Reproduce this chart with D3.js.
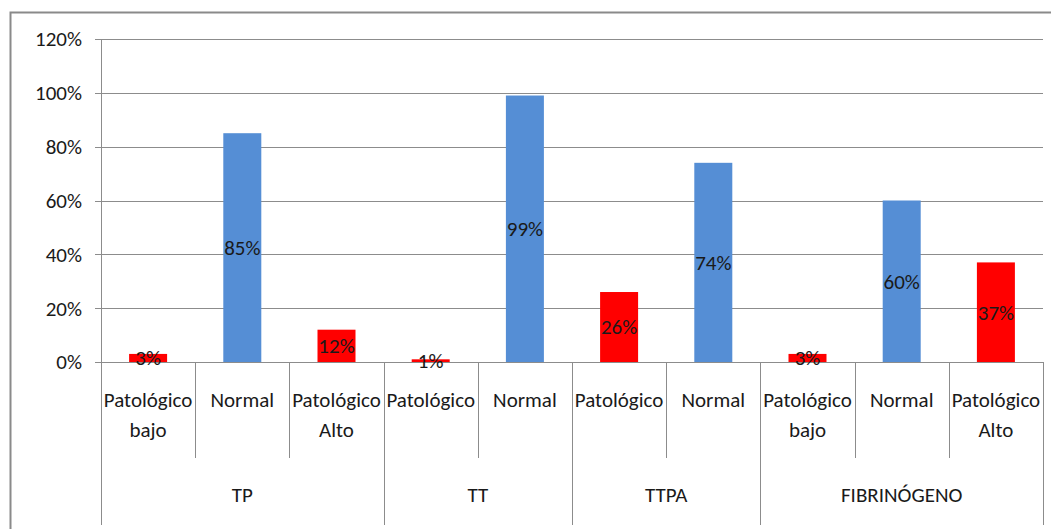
<!DOCTYPE html>
<html><head><meta charset="utf-8">
<script src="https://cdn.jsdelivr.net/npm/d3@7"></script>
<style>
html,body{margin:0;padding:0;background:#fff;}
svg text{font-family:Carlito,Calibri,Lato,sans-serif;fill:#1a1a1a;}
</style></head>
<body><svg id="c" width="1051" height="529"></svg>
<script>
const groups = ["TP","TT","TTPA","FIBRINÓGENO"];
const groupSizes = [3,2,2,3];
const categories = [
  ["Patológico","bajo"],["Normal"],["Patológico","Alto"],
  ["Patológico"],["Normal"],
  ["Patológico"],["Normal"],
  ["Patológico","bajo"],["Normal"],["Patológico","Alto"]
];
const values = [3,85,12,1,99,26,74,3,60,37];
const isNormal = [0,1,0,0,1,0,1,0,1,0];
const yTicks = [0,20,40,60,80,100,120];

(function(){
const svg = d3.select("#c");
const L = 101, R = 1043, T = 39, B = 362;
const FS = 21;
const x = d3.scaleBand().domain(d3.range(values.length)).range([L,R]).paddingInner(0).paddingOuter(0);
const y = d3.scaleLinear().domain([0,120]).range([B,T]);

// outer border
svg.append("path").attr("d",`M10.5,529 L10.5,12.5 L1051,12.5`).attr("fill","none").attr("stroke","#8a8a8a").attr("stroke-width",2);

// gridlines
svg.append("g").selectAll("line").data(yTicks).join("line")
  .attr("x1",L-6).attr("x2",R).attr("y1",d=>Math.round(y(d))+0.5).attr("y2",d=>Math.round(y(d))+0.5)
  .attr("stroke","#8c8c8c").attr("stroke-width",1);
// y axis line
svg.append("line").attr("x1",L+0.5).attr("x2",L+0.5).attr("y1",T).attr("y2",525).attr("stroke","#8c8c8c");
// tick labels
svg.append("g").selectAll("text").data(yTicks).join("text")
  .attr("x",82).attr("y",d=>y(d)).attr("dy","0.35em").attr("text-anchor","end")
  .attr("font-size",FS).text(d=>d+"%");

// bars
const bw = 38;
svg.append("g").selectAll("rect").data(values).join("rect")
  .attr("x",(d,i)=>x(i)+x.bandwidth()/2-bw/2).attr("width",bw)
  .attr("y",d=>y(d)).attr("height",d=>B-y(d))
  .attr("fill",(d,i)=>isNormal[i]?"#558ed5":"#ff0000");

// data labels
svg.append("g").selectAll("text").data(values).join("text")
  .attr("x",(d,i)=>x(i)+x.bandwidth()/2).attr("y",d=>(y(d)+B)/2).attr("dy","0.35em")
  .attr("text-anchor","middle").attr("font-size",FS).text(d=>d+"%");

// category dividers
let bounds=[0]; groupSizes.reduce((a,s)=>{bounds.push(a+s);return a+s;},0);
const groupIdx = new Set(bounds);
const divs = d3.range(values.length+1);
svg.append("g").selectAll("line").data(divs).join("line")
  .attr("x1",i=>Math.round(i<values.length?x(i):R)+0.5).attr("x2",i=>Math.round(i<values.length?x(i):R)+0.5)
  .attr("y1",B).attr("y2",i=>groupIdx.has(i)?525:458)
  .attr("stroke","#8c8c8c");

// category labels
const cl = svg.append("g").selectAll("text").data(categories).join("text")
  .attr("text-anchor","middle").attr("font-size",FS);
cl.each(function(lines,i){
  const t=d3.select(this);
  lines.forEach((ln,k)=>{
    t.append("tspan").attr("x",x(i)+x.bandwidth()/2).attr("y",400+k*30).attr("dy","0.35em").text(ln);
  });
});

// group labels
svg.append("g").selectAll("text").data(groups).join("text")
  .attr("x",(g,j)=>(x(bounds[j]) + (bounds[j+1]<values.length?x(bounds[j+1]):R))/2)
  .attr("y",495).attr("dy","0.35em").attr("text-anchor","middle").attr("font-size",FS).text(g=>g);
})();
</script></body></html>
